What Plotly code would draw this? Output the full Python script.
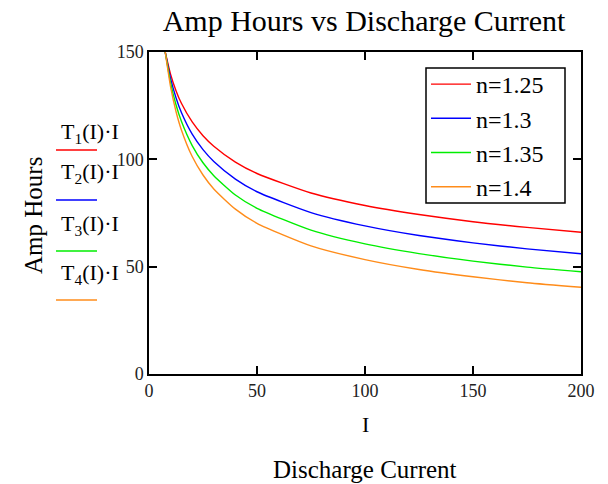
import plotly.graph_objects as go

current = [7.5, 10, 12.5, 15, 20, 25, 30, 40, 50, 75, 100, 125, 150, 175, 200]

# Amp hours (T(I)*I) for each Peukert exponent
ah_n125 = [150, 139.6, 132.0, 126.1, 117.4, 111.0, 106.1, 98.7, 93.4, 84.3, 78.5, 74.3, 70.9, 68.3, 66.0]
ah_n130 = [150, 137.6, 128.7, 121.8, 111.7, 104.5, 99.0, 90.8, 84.9, 75.2, 69.0, 64.5, 61.1, 58.3, 56.0]
ah_n135 = [150, 135.6, 125.4, 117.7, 106.4, 98.4, 92.4, 83.4, 77.2, 67.0, 60.6, 56.1, 52.6, 49.8, 47.6]
ah_n140 = [150, 133.7, 122.3, 113.7, 101.3, 92.7, 86.2, 76.8, 70.2, 59.7, 53.3, 48.7, 45.3, 42.5, 40.4]

series_names = ["n=1.25", "n=1.3", "n=1.35", "n=1.4"]
trace_labels = ["T<sub>1</sub>(I)·I", "T<sub>2</sub>(I)·I", "T<sub>3</sub>(I)·I", "T<sub>4</sub>(I)·I"]
colors = ["#ff0000", "#0000ff", "#00ee00", "#ff8c1a"]

x_ticks = [0, 50, 100, 150, 200]
y_ticks = [0, 50, 100, 150]

FONT = "Liberation Serif, Times New Roman, serif"

fig = go.Figure()
for name, ys, c in zip(series_names, [ah_n125, ah_n130, ah_n135, ah_n140], colors):
    fig.add_trace(go.Scatter(x=current, y=ys, mode="lines", name=name,
                             line=dict(color=c, width=1.4, shape="spline", smoothing=0.6)))

axis_common = dict(showgrid=False, zeroline=False, showline=True, linecolor="black",
                   linewidth=1.5, ticks="inside", ticklen=8, tickwidth=1.5,
                   tickcolor="black", mirror="allticks",
                   tickfont=dict(family=FONT, size=18, color="#222"))


def px_x(p):
    return (p - 149) / 432


def px_y(p):
    return (374 - p) / 322


fig.update_layout(
    width=608, height=484,
    margin=dict(l=149, r=27, t=52, b=110),
    paper_bgcolor="white", plot_bgcolor="white",
    title=dict(text="Amp Hours vs Discharge Current", x=364/608, xanchor="center",
               y=1 - 20/484, yanchor="middle",
               font=dict(family=FONT, size=30, color="black")),
    xaxis=dict(range=[0, 200], tickvals=x_ticks, **axis_common),
    yaxis=dict(range=[0, 150], tickvals=y_ticks, **axis_common),
    legend=dict(x=px_x(426), y=px_y(62), xanchor="left", yanchor="top",
                bgcolor="rgba(0,0,0,0)", borderwidth=0,
                font=dict(family=FONT, size=24, color="black"),
                itemwidth=40, tracegroupgap=0),
    showlegend=True,
)

# legend frame (white box behind the legend entries)
fig.add_shape(type="rect", xref="paper", yref="paper",
              x0=px_x(426), x1=px_x(565), y0=px_y(203), y1=px_y(68),
              fillcolor="white", line=dict(color="black", width=1.5), layer="above")

# axis variable & titles
fig.add_annotation(text="I", x=0.5, y=px_y(425), xref="paper", yref="paper",
                   xanchor="center", yanchor="middle",
                   showarrow=False, font=dict(family=FONT, size=22, color="black"))
fig.add_annotation(text="Discharge Current", x=0.5, y=px_y(469), xref="paper", yref="paper",
                   xanchor="center", yanchor="middle",
                   showarrow=False, font=dict(family=FONT, size=25, color="black"))
fig.add_annotation(text="Amp Hours", x=px_x(33), y=px_y(215), xref="paper", yref="paper",
                   xanchor="center", yanchor="middle",
                   showarrow=False, textangle=-90, font=dict(family=FONT, size=25, color="black"))

# Mathcad-style trace labels with line samples on the left
label_y = [129, 169, 221, 270]
line_y = [150, 200, 251, 300]
for lab, ly, lny, c in zip(trace_labels, label_y, line_y, colors):
    fig.add_annotation(text=lab, x=px_x(59), y=px_y(ly + 4), xref="paper", yref="paper",
                       xanchor="left", yanchor="middle", showarrow=False,
                       font=dict(family=FONT, size=22, color="black"))
    fig.add_shape(type="line", xref="paper", yref="paper",
                  x0=px_x(56), x1=px_x(97), y0=px_y(lny), y1=px_y(lny),
                  line=dict(color=c, width=1.5))

fig.write_html("out.html", config={"displayModeBar": False},
               post_script="document.body.style.margin='0px';")
